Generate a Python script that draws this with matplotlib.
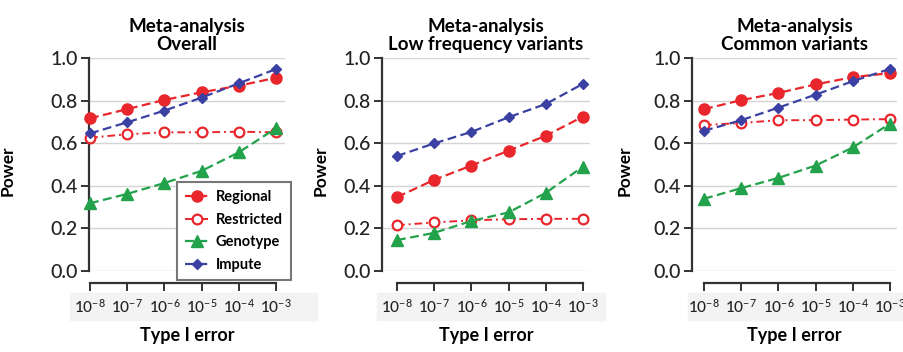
import matplotlib
matplotlib.use('Agg')
import matplotlib.pyplot as plt
from matplotlib.patches import Rectangle

plt.rcParams['font.family'] = ['Lato', 'DejaVu Sans']
plt.rcParams['mathtext.default'] = 'regular'

# data
errors = ['$10^{-8}$', '$10^{-7}$', '$10^{-6}$', '$10^{-5}$', '$10^{-4}$', '$10^{-3}$']
titles = ['Meta-analysis\nOverall', 'Meta-analysis\nLow frequency variants', 'Meta-analysis\nCommon variants']

regional = [[0.717, 0.760, 0.803, 0.839, 0.870, 0.907],
            [0.347, 0.428, 0.495, 0.565, 0.635, 0.725],
            [0.760, 0.802, 0.836, 0.876, 0.910, 0.929]]
restricted = [[0.626, 0.642, 0.651, 0.651, 0.654, 0.651],
              [0.215, 0.228, 0.238, 0.243, 0.245, 0.245],
              [0.685, 0.695, 0.708, 0.708, 0.711, 0.713]]
genotype = [[0.318, 0.362, 0.413, 0.470, 0.557, 0.670],
            [0.145, 0.179, 0.235, 0.275, 0.367, 0.490],
            [0.339, 0.389, 0.437, 0.495, 0.580, 0.692]]
impute = [[0.646, 0.698, 0.753, 0.814, 0.881, 0.948],
          [0.540, 0.599, 0.653, 0.722, 0.784, 0.879],
          [0.658, 0.708, 0.767, 0.828, 0.891, 0.949]]

RED = '#e8262b'
GREEN = '#22a24a'
BLUE = '#3b40a3'
AXC = '#333333'

W, H = 904, 352
fig = plt.figure(figsize=(W / 100, H / 100), dpi=100)

# light band behind the tick labels
for x0, x1 in [(70, 317), (377, 605), (688, 904)]:
    fig.patches.append(Rectangle((x0 / W, 1 - 320 / H), (x1 - x0) / W, 27 / H,
                                 transform=fig.transFigure, color='#f3f3f3', zorder=-5))

# panel geometry in pixels: spine x, first tick x, right end, label x
panels = [(89, 90, 285, 16), (382, 397, 590, 329), (692, 704, 897, 633)]
step = 37.2
ytop, ybot = 58, 271

for i, (sx, fx, rx, lx) in enumerate(panels):
    ax = fig.add_axes([sx / W, 1 - ybot / H, (rx - sx) / W, (ybot - ytop) / H])
    ax.patch.set_alpha(0)
    x = range(len(errors))
    ax.set_xlim(-(fx - sx) / step, (rx - fx) / step)
    ax.set_ylim(0, 1.0)

    ax.plot(x, regional[i], color=RED, ls=(0, (4, 2)), lw=1.6, marker='o', ms=8,
            clip_on=False, label='Regional', zorder=4)
    ax.plot(x, restricted[i], color=RED, ls=(0, (4, 2, 1, 2)), lw=1.4, marker='o', ms=7,
            mfc='white', mew=1.6, clip_on=False, label='Restricted', zorder=3)
    ax.plot(x, genotype[i], color=GREEN, ls=(0, (4, 2)), lw=1.6, marker='^', ms=9,
            clip_on=False, label='Genotype', zorder=3)
    ax.plot(x, impute[i], color=BLUE, ls=(0, (4, 2)), lw=1.6, marker='D', ms=5,
            clip_on=False, label='Impute', zorder=4)

    ax.set_yticks([0.0, 0.2, 0.4, 0.6, 0.8, 1.0])
    ax.set_yticklabels(['0.0', '0.2', '0.4', '0.6', '0.8', '1.0'])
    ax.yaxis.grid(True, color='#d4d4d4', lw=1.0)
    ax.set_axisbelow(True)
    ax.set_xticks(list(x))
    ax.set_xticklabels(errors)

    for s in ['top', 'right']:
        ax.spines[s].set_visible(False)
    ax.spines['left'].set_bounds(0, 1.0)
    ax.spines['bottom'].set_bounds(0, 5)
    ax.spines['bottom'].set_position(('outward', 8.6))
    for s in ['left', 'bottom']:
        ax.spines[s].set_color(AXC)
        ax.spines[s].set_linewidth(1.6)
    ax.tick_params(axis='y', direction='out', length=6, width=1.4, color=AXC,
                   labelsize=14, labelcolor='#222222', pad=2)
    ax.tick_params(axis='x', direction='out', length=6, width=1.4, color=AXC,
                   labelsize=11, labelcolor='#222222', pad=5)
    for t in ax.get_yticklabels() + ax.get_xticklabels():
        t.set_fontweight('medium')

    ax.set_title(titles[i], fontsize=13.5, fontweight='bold', pad=6, linespacing=1.05)
    ax.set_ylabel('Power', fontsize=12.5, fontweight='bold')
    ax.yaxis.set_label_coords((lx - sx) / (rx - sx), 0.47)
    ax.set_xlabel('Type I error', fontsize=13, fontweight='bold')
    ax.xaxis.set_label_coords(0.5, -(336 - ybot) / (ybot - ytop))
    ax.xaxis.label.set_va('center')

    if i == 0:
        leg = ax.legend(loc='upper left', bbox_to_anchor=(0.449, 0.418),
                        borderaxespad=0, fancybox=False, handlelength=1.6,
                        prop={'weight': 'bold', 'size': 10.5}, labelspacing=0.6,
                        borderpad=0.55, handletextpad=0.5, framealpha=1)
        leg.get_frame().set_edgecolor('#777777')
        leg.get_frame().set_linewidth(1.5)

fig.savefig('out.png', dpi=100)
